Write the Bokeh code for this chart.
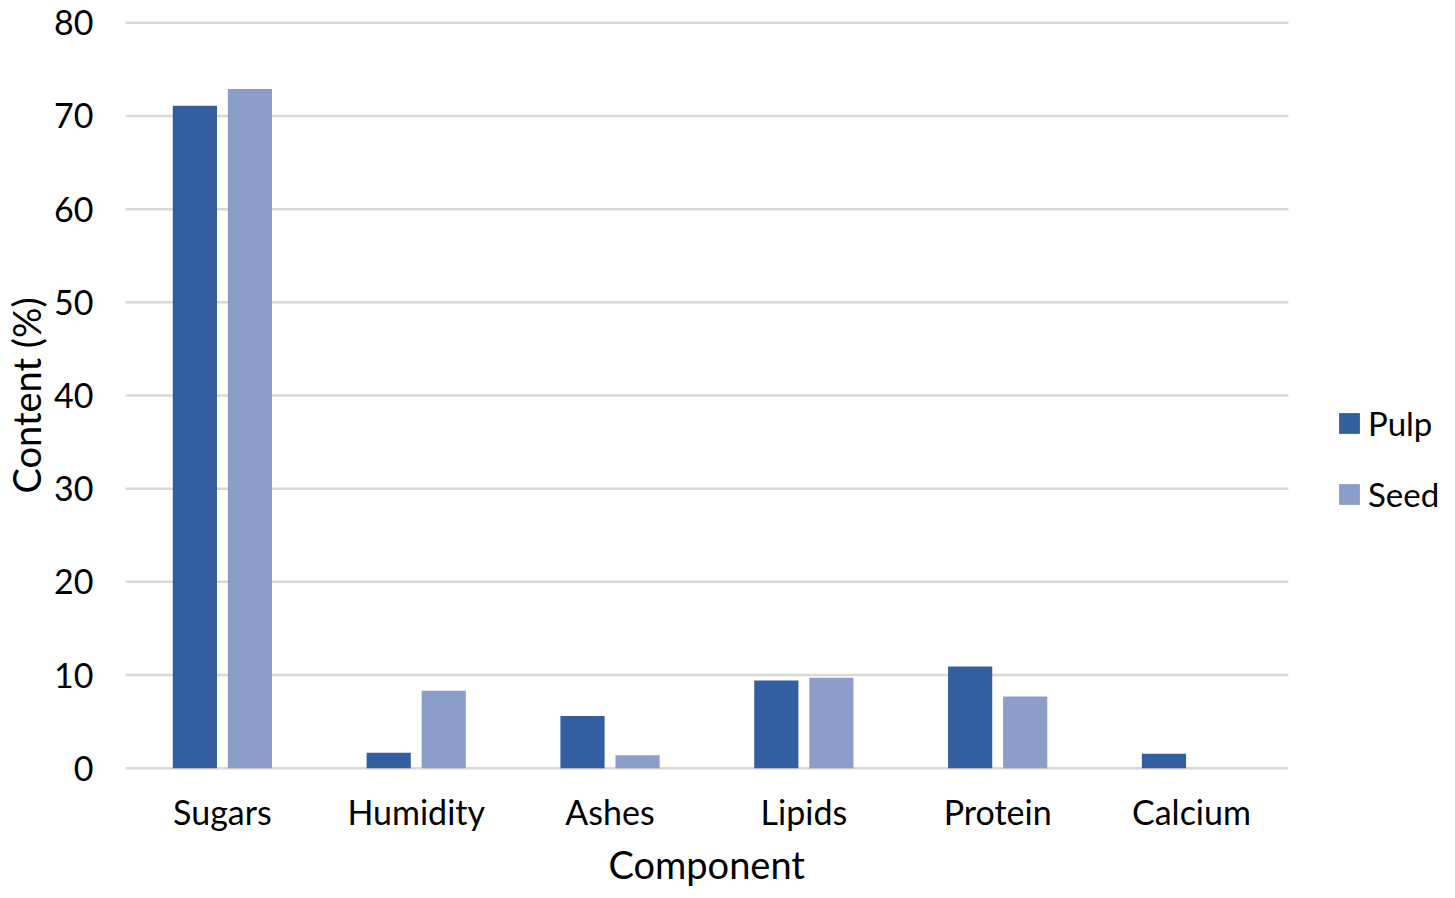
from bokeh.plotting import figure
from bokeh.models import Range1d, ColumnDataSource, Legend, LegendItem, FixedTicker, Title
from bokeh.embed import file_html
from bokeh.resources import INLINE

categories = ["Sugars", "Humidity", "Ashes", "Lipids", "Protein", "Calcium"]
pulp = [71.1, 1.65, 5.6, 9.4, 10.9, 1.55]
seed = [72.9, 8.3, 1.4, 9.7, 7.7, 0.0]
series_names = ["Pulp", "Seed"]
colors = ["#335FA0", "#8B9DC8"]
y_ticks = [0, 10, 20, 30, 40, 50, 60, 70, 80]

FONT = "Lato"
FS = "34px"
FS_TITLE = "38px"

# layout constants
W, H = 1439, 890
LEFT = 118
FRAME_W = 1313                 # actual frame width in px
CAT_PX = 1162                  # px occupied by the category area
n = len(categories)
x_end = n * FRAME_W / CAT_PX   # extra room on the right holds the legend
centers = [i + 0.5 for i in range(n)]
OFF, BW = 0.142, 0.228

src = ColumnDataSource(dict(
    xp=[c - OFF for c in centers],
    xs=[c + OFF for c in centers],
    pulp=pulp, seed=seed,
))
grid_src = ColumnDataSource(dict(y=y_ticks, x0=[0] * len(y_ticks), x1=[n] * len(y_ticks)))

p = figure(
    width=W, height=H,
    x_range=Range1d(0, x_end),
    y_range=Range1d(-0.25, 80.25),
    output_backend="svg", toolbar_location=None,
    min_border_left=LEFT, min_border_right=0, min_border_top=20, min_border_bottom=100,
)
p.outline_line_color = None
p.background_fill_color = "white"
p.border_fill_color = "white"
p.xgrid.grid_line_color = None
p.ygrid.grid_line_color = None

# horizontal gridlines restricted to the category area
p.segment(x0="x0", x1="x1", y0="y", y1="y", source=grid_src,
          line_color="#D9D9D9", line_width=2.5, level="underlay")

r1 = p.vbar(x="xp", top="pulp", width=BW, source=src,
            fill_color=colors[0], line_color=None)
r2 = p.vbar(x="xs", top="seed", width=BW, source=src,
            fill_color=colors[1], line_color=None)

p.yaxis.ticker = FixedTicker(ticks=y_ticks)
p.xaxis.ticker = FixedTicker(ticks=centers)
p.xaxis.major_label_overrides = {c: name for c, name in zip(centers, categories)}

for ax in (p.xaxis[0], p.yaxis[0]):
    ax.axis_line_color = None
    ax.major_tick_line_color = None
    ax.minor_tick_line_color = None
    ax.major_tick_out = 0
    ax.major_tick_in = 0
    ax.major_label_text_font = FONT
    ax.major_label_text_font_size = FS
    ax.major_label_text_color = "#000000"
    ax.axis_label_text_font = FONT
    ax.axis_label_text_font_size = FS_TITLE
    ax.axis_label_text_font_style = "normal"
    ax.axis_label_text_color = "#000000"

p.yaxis.axis_label = "Content (%)"
p.xaxis.major_label_standoff = 20
p.yaxis.major_label_standoff = 32
p.yaxis.axis_label_standoff = 2

# x-axis title, centred under the category area (not under the legend room)
p.add_layout(Title(text="Component", align="left", offset=483,
                   text_font=FONT, text_font_size=FS_TITLE, text_font_style="normal",
                   text_color="#000000", standoff=8), "below")

legend = Legend(
    items=[LegendItem(label=series_names[0], renderers=[r1]),
           LegendItem(label=series_names[1], renderers=[r2])],
    location=(1211, 256),
    orientation="vertical",
    border_line_color=None, background_fill_alpha=0,
    padding=0, margin=0, spacing=31,
    glyph_width=26, glyph_height=26, label_standoff=6, label_height=26,
    label_text_font=FONT, label_text_font_size="33px", label_text_color="#000000",
)
p.add_layout(legend, "center")

open("out.html", "w").write(file_html(p, INLINE))
